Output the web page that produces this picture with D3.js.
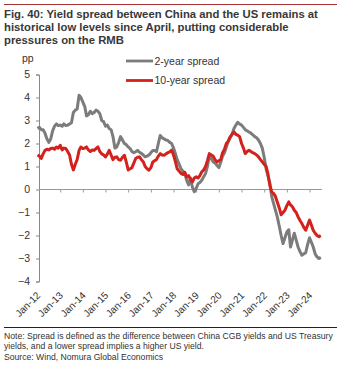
<!DOCTYPE html>
<html><head><meta charset="utf-8">
<script src="https://cdn.jsdelivr.net/npm/d3@7"></script>
<style>body{margin:0;background:#fff}svg{display:block}</style>
</head><body>
<script>
const titleLines = [
  "Fig. 40: Yield spread between China and the US remains at",
  "historical low levels since April, putting considerable",
  "pressures on the RMB"
];
const noteLines = [
  "Note: Spread is defined as the difference between China CGB yields and US Treasury",
  "yields, and a lower spread implies a higher US yield.",
  "Source: Wind, Nomura Global Economics"
];
const unitLabel = "pp";
const seriesNames = ["2-year spread", "10-year spread"];
const xTickLabels = ["Jan-12","Jan-13","Jan-14","Jan-15","Jan-16","Jan-17","Jan-18","Jan-19","Jan-20","Jan-21","Jan-22","Jan-23","Jan-24"];
const yTicks = [5,4,3,2,1,0,-1,-2,-3,-4];
const firstMonth = [2012, 0]; // monthly observations from Jan 2012

const spread2y = [
  2.65,2.7,2.6,2.6,2.45,2.2,2.05,2.2,2.55,2.75,2.85,2.78,
  2.8,2.75,2.85,2.78,2.8,2.85,2.9,3.35,3.45,3.5,4.1,4.0,
  3.8,3.6,3.2,3.25,3.4,3.3,3.35,3.45,3.4,3.3,3.0,2.95,
  2.75,2.8,2.65,2.6,2.3,1.8,1.85,2.05,2.3,2.15,2.0,1.95,
  1.85,1.78,1.65,1.6,1.64,1.7,1.62,1.57,1.5,1.42,1.45,1.5,
  1.6,1.7,1.7,1.64,2.0,2.35,2.25,2.2,2.15,2.13,2.05,2.0,
  1.8,1.55,1.3,1.1,0.9,0.8,0.7,0.4,0.2,0.5,0.1,-0.1,
  0.05,0.25,0.3,0.4,0.55,0.7,1.0,1.45,1.35,1.2,1.15,1.05,
  0.95,1.2,1.45,1.6,1.85,2.1,2.25,2.4,2.65,2.8,2.92,2.85,
  2.8,2.7,2.6,2.55,2.5,2.45,2.38,2.3,2.25,2.15,2.0,1.8,
  1.4,0.9,0.6,0.3,-0.3,-0.6,-0.9,-1.2,-1.6,-2.0,-2.35,-2.1,
  -1.85,-1.75,-2.5,-2.2,-1.9,-2.2,-2.5,-2.7,-2.86,-2.8,-2.75,-2.4,
  -2.1,-2.3,-2.5,-2.8,-2.93,-3.0,-2.95
];
const spread10y = [
  1.5,1.45,1.35,1.55,1.7,1.75,1.72,1.78,1.8,1.75,1.85,1.8,
  1.92,1.72,1.8,1.78,1.65,1.5,1.1,0.85,1.1,1.3,1.7,1.85,
  1.78,1.8,1.85,1.72,1.65,1.72,1.7,1.78,1.85,1.65,1.55,1.5,
  1.42,1.55,1.7,1.5,1.3,1.4,1.42,1.3,1.27,1.4,1.49,1.2,
  0.85,0.9,0.95,1.15,1.35,1.4,1.42,1.3,1.2,1.0,0.9,0.84,
  0.95,1.2,1.25,1.3,1.45,1.56,1.5,1.49,1.55,1.6,1.64,1.71,
  1.5,1.2,0.9,0.8,0.7,0.65,0.75,0.55,0.6,0.45,0.33,0.5,
  0.55,0.5,0.6,0.77,0.85,1.0,1.25,1.56,1.5,1.45,1.3,1.2,
  1.25,1.3,1.6,1.75,2.0,2.1,2.29,2.4,2.5,2.4,2.36,2.3,
  2.0,1.8,1.56,1.65,1.71,1.65,1.6,1.56,1.5,1.42,1.3,1.2,
  1.1,1.0,0.7,0.2,-0.1,-0.17,-0.3,-0.55,-0.8,-1.1,-1.0,-0.9,
  -0.7,-0.54,-0.67,-0.75,-0.9,-1.0,-1.19,-1.35,-1.48,-1.65,-1.77,-1.55,
  -1.33,-1.55,-1.77,-1.9,-2.0,-2.05,-2.0
];

const W = 341, H = 368;
const FONT = "'Liberation Sans', Arial, Helvetica, sans-serif";
const textCol = "#333";
const grayCol = "#7c7c7c";
const redCol = "#d3221d";

const svg = d3.select("body").append("svg").attr("width", W).attr("height", H)
  .style("font-family", FONT);

// top rule
svg.append("line").attr("x1",4).attr("x2",337).attr("y1",4.5).attr("y2",4.5)
  .attr("stroke","#a83232").attr("stroke-width",1);

// title
const titleBase = [18, 30.8, 43.5];
const titles = titleLines.map((t,i) => svg.append("text").attr("x",4).attr("y",titleBase[i])
  .attr("font-size",11.5).attr("font-weight","bold").attr("fill","#383838").text(t));
{
  const w = titles[0].node().getComputedTextLength();
  const fs = 11.5 * 314 / w;
  titles.forEach(s => s.attr("font-size", fs.toFixed(2)));
}

// scales
const dates = spread2y.map((_,i) => new Date(firstMonth[0], firstMonth[1] + i, 1));
const x = d3.scaleTime().domain([new Date(2012,0,1), new Date(2024,0,1)]).range([37.5, 309.5]);
const y = d3.scaleLinear().domain([-4,5]).range([281.5, 74.5]);

// y axis
const yAxis = svg.append("g").attr("transform","translate(39,0)")
  .call(d3.axisLeft(y).tickValues(yTicks).tickSize(3).tickPadding(6).tickFormat(d3.format("d")));
yAxis.select(".domain").attr("stroke","#888");
yAxis.selectAll(".tick line").attr("stroke","#888");
yAxis.selectAll("text").attr("font-size",10.5).attr("fill",textCol).style("font-family",FONT);

svg.append("text").attr("x",22).attr("y",62).attr("font-size",10.5).attr("fill",textCol).text(unitLabel);

// zero line with ticks
const janDates = xTickLabels.map((_,i) => new Date(2012+i,0,1));
const zeroAxis = svg.append("g").attr("transform",`translate(0,${y(0)})`)
  .call(d3.axisBottom(x).tickValues(janDates.slice(1)).tickSize(3).tickFormat(""));
zeroAxis.select(".domain").remove();
zeroAxis.selectAll(".tick line").attr("stroke","#999");
svg.append("line").attr("x1",39).attr("x2",322).attr("y1",y(0)).attr("y2",y(0))
  .attr("stroke","#999").attr("stroke-width",1);

// bottom tick labels
const lblAxis = svg.append("g").attr("transform","translate(0,283)")
  .call(d3.axisBottom(x).tickValues(janDates).tickSize(0).tickFormat((d,i)=>xTickLabels[i]));
lblAxis.select(".domain").remove();
lblAxis.selectAll("text").attr("font-size",10).attr("fill",textCol).style("font-family",FONT)
  .attr("text-anchor","end").attr("dy",null).attr("y",0)
  .attr("transform","translate(3,13) rotate(-45)");

// lines
const line = d3.line().x((d,i)=>x(dates[i])).y(d=>y(d)).curve(d3.curveLinear);
svg.append("path").datum(spread2y).attr("d",line).attr("fill","none")
  .attr("stroke",grayCol).attr("stroke-width",3).attr("stroke-linejoin","round");
svg.append("path").datum(spread10y).attr("d",line).attr("fill","none")
  .attr("stroke",redCol).attr("stroke-width",3).attr("stroke-linejoin","round");

// legend
const legY = [61, 80.5];
const legCols = [grayCol, redCol];
seriesNames.forEach((n,i) => {
  svg.append("line").attr("x1",126).attr("x2",153).attr("y1",legY[i]).attr("y2",legY[i])
    .attr("stroke",legCols[i]).attr("stroke-width",2.8);
  svg.append("text").attr("x",154.5).attr("y",legY[i]+3.8).attr("font-size",10.5)
    .attr("fill",textCol).text(n);
});

// bottom rule and notes
svg.append("line").attr("x1",4).attr("x2",337).attr("y1",327.5).attr("y2",327.5)
  .attr("stroke","#222").attr("stroke-width",1);
const noteBase = [339, 349.3, 359.6];
const notes = noteLines.map((t,i) => svg.append("text").attr("x",4).attr("y",noteBase[i])
  .attr("font-size",9).attr("fill",textCol).text(t));
{
  const w = notes[0].node().getComputedTextLength();
  const fs = 9 * 329 / w;
  notes.forEach(s => s.attr("font-size", fs.toFixed(2)));
}
</script>
</body></html>
